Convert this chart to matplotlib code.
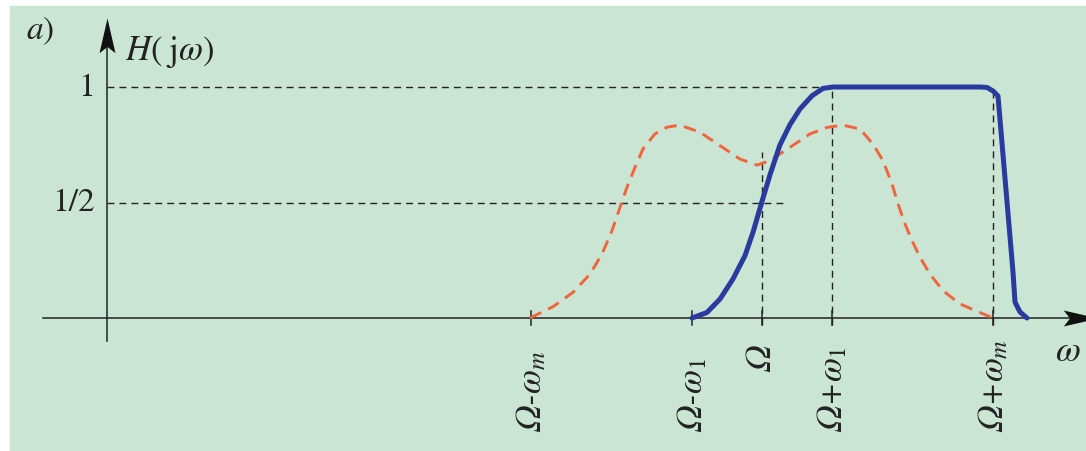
import matplotlib

matplotlib.use("Agg")
import matplotlib.pyplot as plt
from matplotlib.patches import Rectangle
from matplotlib.path import Path

plt.rcParams["mathtext.fontset"] = "stix"
plt.rcParams["font.family"] = ["STIXGeneral", "DejaVu Serif"]
plt.rcParams["lines.scale_dashes"] = False

# frequencies (same scale as the drawing, y axis at 0)
OMEGA = 6.55
W1 = 0.70
WM = 2.31

# band-pass response H(jw)
blue_x = [5.85, 6.00, 6.13, 6.26, 6.38, 6.46, 6.55, 6.63, 6.73, 6.83,
          6.93, 7.05, 7.16, 7.26, 8.73, 8.80, 8.86, 8.91, 9.06,
          9.08, 9.13, 9.20]
blue_y = [0.0, 0.024, 0.082, 0.169, 0.270, 0.371, 0.505, 0.620, 0.750, 0.837,
          0.905, 0.962, 0.994, 1.0, 1.0, 0.998, 0.983, 0.961, 0.199,
          0.069, 0.026, 0.0]

# spectrum of the modulated signal (dashed)
orange_x = [4.23, 4.46, 4.66, 4.83, 4.95, 5.05, 5.13, 5.20, 5.28, 5.36,
            5.48, 5.60, 5.73, 5.93, 6.13, 6.33, 6.50, 6.63, 6.83, 7.03,
            7.20, 7.36, 7.53, 7.66, 7.76, 7.85, 7.91, 7.98, 8.05, 8.13,
            8.23, 8.36, 8.53, 8.70, 8.86]
orange_y = [0.0, 0.049, 0.111, 0.19, 0.277, 0.378, 0.479, 0.566, 0.652, 0.732,
            0.797, 0.826, 0.835, 0.804, 0.746, 0.688, 0.662, 0.681, 0.739, 0.797,
            0.825, 0.835, 0.818, 0.753, 0.681, 0.58, 0.494, 0.407, 0.335, 0.263,
            0.19, 0.118, 0.061, 0.029, 0.0]

tick_pos = [OMEGA - WM, OMEGA - W1, OMEGA, OMEGA + W1, OMEGA + WM]
tick_labels = ["Ω-$\\omega_m$", "Ω-$\\omega_1$", "Ω",
               "Ω+$\\omega_1$", "Ω+$\\omega_m$"]

BG = "#cbe5d4"
BLUE = "#2a3a9e"
ORANGE = "#f0653c"
INK = "#222222"

fig = plt.figure(figsize=(10.86, 4.52), dpi=100)
fig.patch.set_facecolor("white")

ax = fig.add_axes([0, 0, 1, 1])
ax.set_facecolor("none")
ax.axis("off")
ax.set_xlim(-1.07, 9.79)
ax.set_ylim(-133 / 231, 319 / 231)
ax.add_patch(Rectangle((10 / 1086, 0), 1, 1 - 7 / 452,
                       transform=fig.transFigure, color=BG, zorder=-10))

# arrow heads with a notched back
up_head = Path([(0, 0), (0.23, -1), (0, -0.82), (-0.23, -1), (0, 0)],
               [Path.MOVETO, Path.LINETO, Path.LINETO, Path.LINETO, Path.CLOSEPOLY])
right_head = Path([(0, 0), (-1, 0.23), (-0.82, 0), (-1, -0.23), (0, 0)],
                  [Path.MOVETO, Path.LINETO, Path.LINETO, Path.LINETO, Path.CLOSEPOLY])

# axes
ax.plot([-0.64, 9.8], [0, 0], color=INK, lw=1.1)
ax.plot([0, 0], [-0.1, 1.25], color=INK, lw=1.1)
ax.plot(0, 1.30, marker=up_head, markersize=50, color="#111111", mew=0)
ax.plot(9.91, 0, marker=right_head, markersize=50, color="#111111", mew=0)

# guide lines
guide = dict(color=INK, lw=1.0, dashes=(5, 3.6))
ax.plot([0, 7.13], [1, 1], **guide)
ax.plot([0, 6.76], [0.5, 0.5], **guide)
ax.plot([OMEGA, OMEGA], [-0.03, 0.72], **guide)
ax.plot([OMEGA + W1, OMEGA + W1], [-0.03, 1.0], **guide)
ax.plot([OMEGA + WM, OMEGA + WM], [-0.03, 0.98], **guide)

for x in tick_pos:
    ax.plot([x, x], [-0.03, 0.03], color=INK, lw=1.1)

ax.plot(orange_x, orange_y, color=ORANGE, lw=2.1, dashes=(9, 5.5),
        solid_capstyle="butt")
ax.plot(blue_x, blue_y, color=BLUE, lw=3.6, solid_joinstyle="round",
        solid_capstyle="round")

# texts: compound labels start at the same height, the lone Omega sits higher
for x, lab in zip(tick_pos, tick_labels):
    y0 = -0.229 if lab == "Ω" else -0.489
    ax.text(x, y0, lab, rotation=90, ha="center", va="bottom",
            fontsize=25, fontstyle="italic", color=INK)

ax.text(-0.12, 1.0, "1", ha="right", va="center", fontsize=24, color=INK)
ax.text(-0.12, 0.5, "1/2", ha="right", va="center", fontsize=24, color=INK)
ax.text(0.18, 1.155, r"$H(\;\mathrm{j}\omega)$", ha="left", va="center",
        fontsize=25, color=INK)
ax.text(-0.67, 1.25, r"$a)$", ha="center", va="center", fontsize=24,
        color=INK)
ax.text(9.61, -0.145, r"$\omega$", ha="center", va="center", fontsize=26,
        color=INK)

fig.savefig("out.png", dpi=100, facecolor=fig.get_facecolor())
